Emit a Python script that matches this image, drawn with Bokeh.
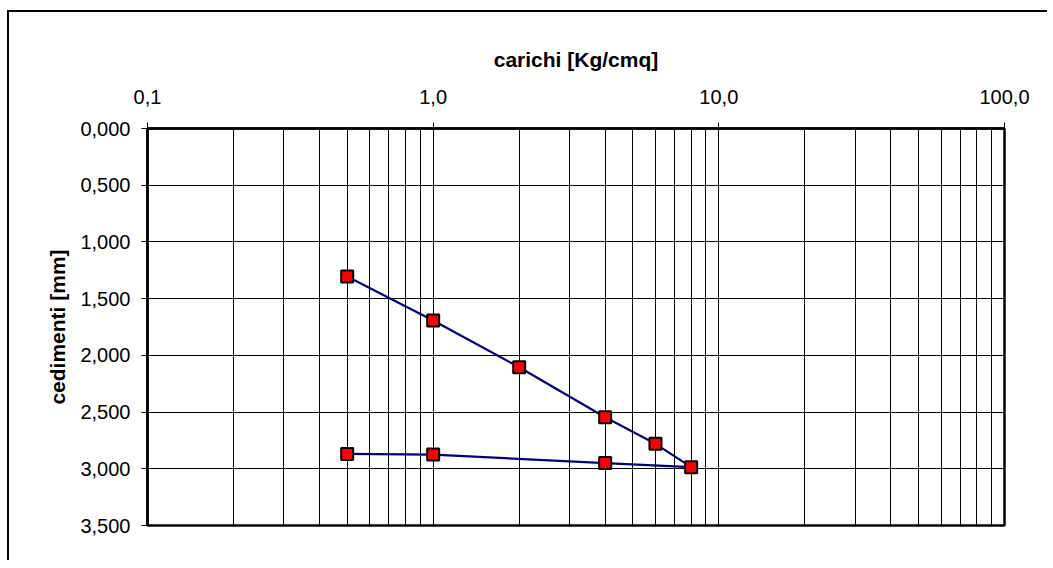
from bokeh.plotting import figure
from bokeh.models import FixedTicker, CustomJSTickFormatter, Range1d
from bokeh.embed import file_html
from bokeh.resources import INLINE

# data: load steps (Kg/cmq) and settlements (mm)
carichi = [0.5, 1.0, 2.0, 4.0, 6.0, 8.0, 4.0, 1.0, 0.5]
cedimenti = [1.305, 1.693, 2.105, 2.546, 2.780, 2.986, 2.950, 2.875, 2.869]

x_major = [0.1, 1.0, 10.0, 100.0]
x_minor = [0.2, 0.3, 0.4, 0.5, 0.6, 0.7, 0.8, 0.9,
           2, 3, 4, 5, 6, 7, 8, 9,
           20, 30, 40, 50, 60, 70, 80, 90]
y_major = [0.0, 0.5, 1.0, 1.5, 2.0, 2.5, 3.0, 3.5]

FONT = "Liberation Sans"

p = figure(width=1040, height=550, x_axis_type="log", x_axis_location="above",
           x_range=Range1d(0.1, 100), y_range=Range1d(3.5, 0.0),
           output_backend="svg", toolbar_location=None,
           min_border_left=138, min_border_right=45, min_border_top=116, min_border_bottom=37)
p.styles = {"border-left": "2px solid #000", "border-top": "2px solid #000",
            "margin-left": "7px", "margin-top": "10px"}

p.xaxis.ticker = FixedTicker(ticks=x_major, minor_ticks=x_minor)
p.yaxis.ticker = FixedTicker(ticks=y_major)
p.xaxis.formatter = CustomJSTickFormatter(code="return tick.toFixed(1).replace('.', ',');")
p.yaxis.formatter = CustomJSTickFormatter(code="return tick.toFixed(3).replace('.', ',');")

for ax in (p.xaxis, p.yaxis):
    ax.axis_line_color = "black"
    ax.axis_line_width = 2.5
    ax.major_tick_line_color = "black"
    ax.major_tick_in = 0
    ax.major_tick_out = 6
    ax.minor_tick_line_color = None
    ax.major_label_text_font = FONT
    ax.major_label_text_font_size = "20px"
    ax.major_label_text_color = "black"
    ax.axis_label_text_font = FONT
    ax.axis_label_text_font_size = "21px"
    ax.axis_label_text_font_style = "bold"
    ax.axis_label_text_color = "black"

p.xaxis.axis_label = "carichi [Kg/cmq]"
p.yaxis.axis_label = "cedimenti [mm]"
p.xaxis.major_label_standoff = 19
p.xaxis.axis_label_standoff = 16
p.yaxis.major_label_standoff = 11
p.yaxis.axis_label_standoff = 8

p.xgrid.grid_line_color = "black"
p.xgrid.grid_line_width = 1
p.xgrid.minor_grid_line_color = "black"
p.xgrid.minor_grid_line_width = 1
p.ygrid.grid_line_color = "black"
p.ygrid.grid_line_width = 1

p.outline_line_color = "black"
p.outline_line_width = 2.5

p.line(carichi, cedimenti, line_color="#000080", line_width=2.2)
p.scatter(carichi, cedimenti, marker="square", size=12, fill_color="red",
          line_color="black", line_width=2)

open("out.html", "w").write(file_html(p, INLINE))
